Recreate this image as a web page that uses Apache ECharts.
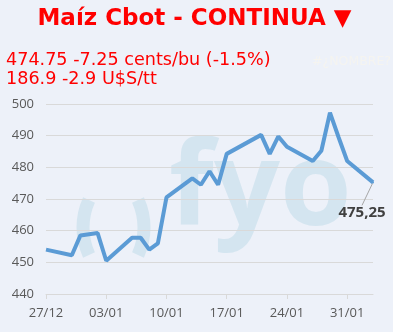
<!DOCTYPE html>
<html><head><meta charset="utf-8">
<script src="https://cdn.jsdelivr.net/npm/echarts@6/dist/echarts.min.js"></script>
<style>html,body{margin:0;padding:0;background:#edf1f9;}#c{width:393px;height:332px;}</style>
</head><body><div id="c"></div>
<script>
// Trading dates (dd/mm) and settlement values (cents/bu)
const tradeDates = ['27/12','30/12','31/12','02/01','03/01','06/01','07/01','08/01','09/01','10/01',
  '13/01','14/01','15/01','16/01','17/01','21/01','22/01','23/01','24/01','27/01','28/01','29/01','30/01','31/01','03/02'];
const tradeValues = [454,452.25,458.5,459.25,450.5,457.75,457.75,454,456,470.5,
  476.5,474.5,478.75,474.5,484.25,490.25,484.25,489.75,486.5,482,485.25,497.25,489.5,482,475.25];
// Calendar span of the axis (first and last day)
const startDay = [2024, 12, 27];
const endDay = [2025, 2, 3];
const tickLabels = ['27/12','03/01','10/01','17/01','24/01','31/01'];
const yTicks = [440,450,460,470,480,490,500];
const titleText = 'Maíz Cbot - CONTINUA ▼';
const line1 = '474.75 -7.25 cents/bu (-1.5%)';
const line2 = '186.9 -2.9 U$S/tt';
const ghostText = '#¿NOMBRE?';

// build daily categories
const days = [];
const d = new Date(Date.UTC(startDay[0], startDay[1]-1, startDay[2]));
const e = new Date(Date.UTC(endDay[0], endDay[1]-1, endDay[2]));
while (d <= e) {
  days.push(String(d.getUTCDate()).padStart(2,'0') + '/' + String(d.getUTCMonth()+1).padStart(2,'0'));
  d.setUTCDate(d.getUTCDate()+1);
}
const lastIdx = tradeDates.length - 1;
const seriesData = days.map(day => {
  const i = tradeDates.indexOf(day);
  if (i < 0) return null;
  if (i === lastIdx) {
    return {value: tradeValues[i], symbol: 'circle', symbolSize: 2,
      itemStyle: {color: '#5b9bd5', borderWidth: 0},
      label: {show: true}, labelLine: {show: true}};
  }
  return tradeValues[i];
});

const wm = '#d4e5f0';
const chart = echarts.init(document.getElementById('c'));
chart.setOption({
  backgroundColor: '#edf1f9',
  animation: false,
  graphic: [
    {type: 'arc', z: -1, silent: true, shape: {cx: 149, cy: 227.5, r: 66, startAngle: Math.PI - 0.43, endAngle: Math.PI + 0.43, clockwise: true},
      style: {stroke: wm, lineWidth: 13, fill: null}},
    {type: 'arc', z: -1, silent: true, shape: {cx: 78, cy: 227.5, r: 66, startAngle: -0.43, endAngle: 0.43, clockwise: true},
      style: {stroke: wm, lineWidth: 13, fill: null}},
    {type: 'text', left: 169, top: 134, z: -1, silent: true, style: {text: 'fyo', fill: wm, font: '700 116px "Open Sans"'}},
    {type: 'text', x: 194.5, y: 19.5, silent: true, style: {text: titleText, fill: '#ff0000', font: 'bold 23px "DejaVu Sans"', align: 'center', verticalAlign: 'middle'}},
    {type: 'text', x: 6, y: 61, scaleX: 1.035, silent: true, style: {text: line1, fill: '#ff0000', font: '17px "DejaVu Sans"', align: 'left', verticalAlign: 'middle'}},
    {type: 'text', x: 6, y: 80, scaleX: 1.035, silent: true, style: {text: line2, fill: '#ff0000', font: '17px "DejaVu Sans"', align: 'left', verticalAlign: 'middle'}},
    {type: 'text', x: 391, y: 62, silent: true, style: {text: ghostText, fill: '#f5f4f0', font: '12.5px "DejaVu Sans"', align: 'right', verticalAlign: 'middle'}}
  ],
  grid: {left: 46, right: 20, top: 104, bottom: 38},
  xAxis: {
    type: 'category', data: days, boundaryGap: false,
    axisLine: {lineStyle: {color: '#d9d9d9'}},
    axisTick: {interval: 6, lineStyle: {color: '#d9d9d9'}, length: 5},
    axisLabel: {interval: 6, color: '#595959', fontSize: 13, fontFamily: 'Open Sans', margin: 13},
    splitLine: {show: false}
  },
  yAxis: {
    type: 'value', min: yTicks[0], max: yTicks[yTicks.length-1], interval: 10,
    axisLine: {show: false}, axisTick: {show: false},
    axisLabel: {color: '#595959', fontSize: 13, fontFamily: 'Open Sans', margin: 12},
    splitLine: {lineStyle: {color: '#d9d9d9'}}
  },
  series: [{
    type: 'line', data: seriesData, connectNulls: true, showSymbol: true, showAllSymbol: true, symbol: 'none',
    lineStyle: {color: '#5b9bd5', width: 4},
    label: {show: false, position: 'bottom', fontWeight: 'bold', fontSize: 15, color: '#404040', fontFamily: 'Open Sans',
      formatter: p => String(p.value).replace('.', ',')},
    labelLine: {show: false, lineStyle: {color: '#a6a6a6', width: 1}},
    labelLayout: {dx: -11, dy: 17}
  }]
});
</script></body></html>
